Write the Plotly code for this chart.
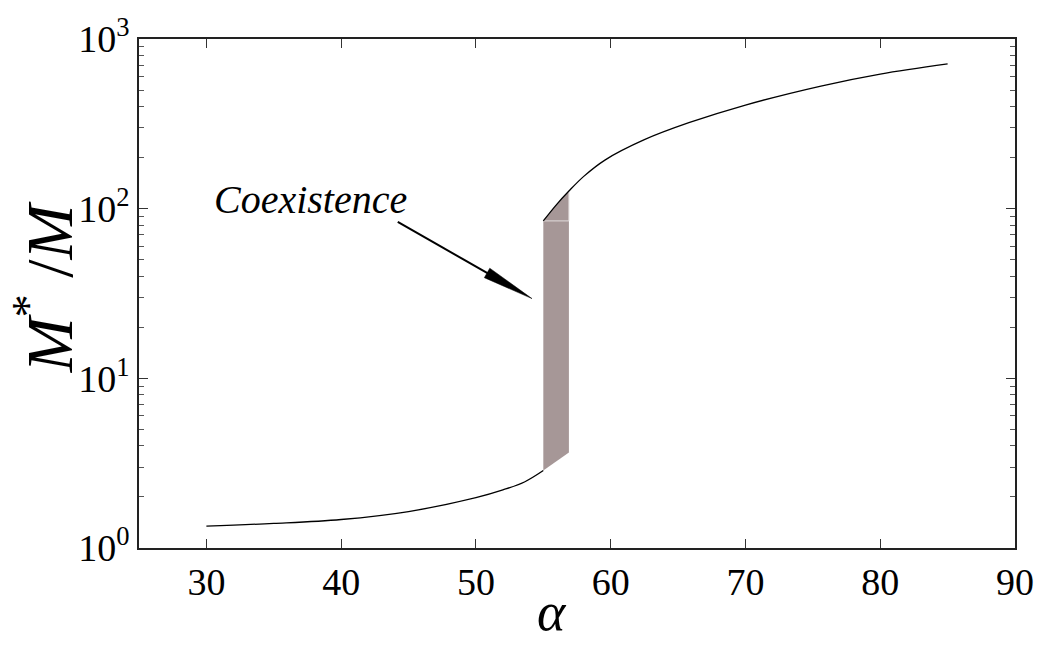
import math
import plotly.graph_objects as go

# ---- data ----
alpha_low = [30.0, 35.0, 40.0, 45.0, 50.0, 52.0, 53.6, 55.0]
mstar_low = [1.346, 1.396, 1.472, 1.64, 1.98, 2.20, 2.45, 2.86]

alpha_up = [55.0, 55.95, 56.9, 58.0, 59.6, 62.5, 65.8, 70.0, 75.6, 80.0, 85.0]
mstar_up = [84.7, 105.0, 127.0, 155.0, 194.0, 255.0, 321.0, 408.0, 528.0, 621.0, 713.0]

# coexistence band: lower edge continues the low branch to the spinodal
band_alpha_low = [55.0, 56.0, 56.9]
band_low = [2.86, 3.24, 3.66]
band_alpha_up = [55.0, 55.95, 56.9]
band_up = [84.7, 105.0, 127.0]

x_ticks = [30, 40, 50, 60, 70, 80, 90]
y_ticks = [1, 10, 100, 1000]
y_ticktext = ["10<sup>0</sup>", "10<sup>1</sup>", "10<sup>2</sup>", "10<sup>3</sup>"]

arrow_tail = (44.2, 83.6)
arrow_tip = (54.16, 29.5)
label_pos = (37.76, 113.0)

X_RANGE = [25, 90]
Y_RANGE_LOG = [0, 3]

W, H = 1046, 645
ML, MR, MT, MB = 139, 28, 35, 97
PW, PH = W - ML - MR, H - MT - MB

FONT = "Liberation Serif, Times New Roman, serif"
SHADE = "#a69797"

fig = go.Figure()

# coexistence band: lower block
fig.add_trace(go.Scatter(
    x=band_alpha_low + [band_alpha_low[-1], band_alpha_low[0]],
    y=band_low + [band_up[0], band_up[0]],
    fill="toself", fillcolor=SHADE, mode="lines", line=dict(width=0),
    hoverinfo="skip", showlegend=False))
# coexistence band: upper wedge
fig.add_trace(go.Scatter(
    x=band_alpha_up + [band_alpha_up[-1]],
    y=band_up + [band_up[0]],
    fill="toself", fillcolor=SHADE, mode="lines", line=dict(width=0),
    hoverinfo="skip", showlegend=False))
# light seam lines between patches
fig.add_trace(go.Scatter(
    x=[band_alpha_up[0], band_alpha_up[-1], band_alpha_up[-1]],
    y=[band_up[0], band_up[0], band_up[-1]],
    mode="lines", line=dict(color="#e2dcdc", width=1),
    hoverinfo="skip", showlegend=False))

# curves
fig.add_trace(go.Scatter(x=alpha_low, y=mstar_low, mode="lines",
                         line=dict(color="black", width=1.3, shape="spline", smoothing=1.0),
                         showlegend=False))
fig.add_trace(go.Scatter(x=alpha_up, y=mstar_up, mode="lines",
                         line=dict(color="black", width=1.3, shape="spline", smoothing=1.0),
                         showlegend=False))

# arrow (shaft + long narrow head) computed in pixel space
def to_px(a, m):
    px = ML + (a - X_RANGE[0]) / (X_RANGE[1] - X_RANGE[0]) * PW
    py = MT + (Y_RANGE_LOG[1] - math.log10(m)) / (Y_RANGE_LOG[1] - Y_RANGE_LOG[0]) * PH
    return px, py

def from_px(px, py):
    a = X_RANGE[0] + (px - ML) / PW * (X_RANGE[1] - X_RANGE[0])
    lg = Y_RANGE_LOG[1] - (py - MT) / PH * (Y_RANGE_LOG[1] - Y_RANGE_LOG[0])
    return a, 10 ** lg

tx, ty = to_px(*arrow_tail)
hx, hy = to_px(*arrow_tip)
dx, dy = hx - tx, hy - ty
L = math.hypot(dx, dy)
ux, uy = dx / L, dy / L
nx, ny = -uy, ux
HEAD_L, HEAD_W = 52, 5.5
bx, by = hx - HEAD_L * ux, hy - HEAD_L * uy
c1 = from_px(bx + HEAD_W * nx, by + HEAD_W * ny)
c2 = from_px(bx - HEAD_W * nx, by - HEAD_W * ny)
base = from_px(bx + 3 * ux, by + 3 * uy)

fig.add_trace(go.Scatter(x=[arrow_tail[0], base[0]], y=[arrow_tail[1], base[1]],
                         mode="lines", line=dict(color="black", width=2),
                         hoverinfo="skip", showlegend=False))
fig.add_trace(go.Scatter(x=[c1[0], arrow_tip[0], c2[0], c1[0]],
                         y=[c1[1], arrow_tip[1], c2[1], c1[1]],
                         fill="toself", fillcolor="black", mode="lines",
                         line=dict(color="black", width=0.5),
                         hoverinfo="skip", showlegend=False))

fig.add_annotation(x=label_pos[0], y=math.log10(label_pos[1]), xref="x", yref="y",
                   text="<i>Coexistence</i>", showarrow=False,
                   font=dict(family=FONT, size=40, color="black"))

# axis titles
fig.add_annotation(x=(553 - ML) / PW, y=-(644 - (MT + PH)) / PH, xref="paper", yref="paper",
                   text="<i>α</i>", showarrow=False, xanchor="center", yanchor="bottom",
                   borderpad=0,
                   font=dict(family=FONT, size=54, color="black"))
fig.add_annotation(x=(44 - ML) / PW, y=((MT + PH) - 285) / PH, xref="paper", yref="paper",
                   text="<i>M</i><sup>*</sup> /<i>M</i>", showarrow=False, textangle=-90,
                   xanchor="center", yanchor="middle", borderpad=0,
                   font=dict(family=FONT, size=66, color="black"))

minor_vals = [k * 10 ** d for d in range(3) for k in range(2, 10)]

fig.update_xaxes(range=X_RANGE, tickmode="array", tickvals=x_ticks,
                 ticks="inside", ticklen=9, tickwidth=1, tickcolor="#333",
                 showline=True, linecolor="#222", linewidth=1.5, mirror="ticks",
                 showgrid=False, zeroline=False,
                 tickfont=dict(family=FONT, size=38, color="black"))
fig.update_yaxes(type="log", range=Y_RANGE_LOG, tickmode="array", tickvals=y_ticks,
                 ticktext=y_ticktext,
                 ticks="inside", ticklen=9, tickwidth=1, tickcolor="#333",
                 minor=dict(tickmode="array", tickvals=minor_vals, ticks="inside",
                            ticklen=5, tickcolor="#555", showgrid=False),
                 showline=True, linecolor="#222", linewidth=1.5, mirror="ticks",
                 showgrid=False, zeroline=False,
                 tickfont=dict(family=FONT, size=38, color="black"))

fig.update_layout(width=W, height=H, margin=dict(l=ML, r=MR, t=MT, b=MB),
                  paper_bgcolor="white", plot_bgcolor="white", showlegend=False)

fig.write_html("out.html")
